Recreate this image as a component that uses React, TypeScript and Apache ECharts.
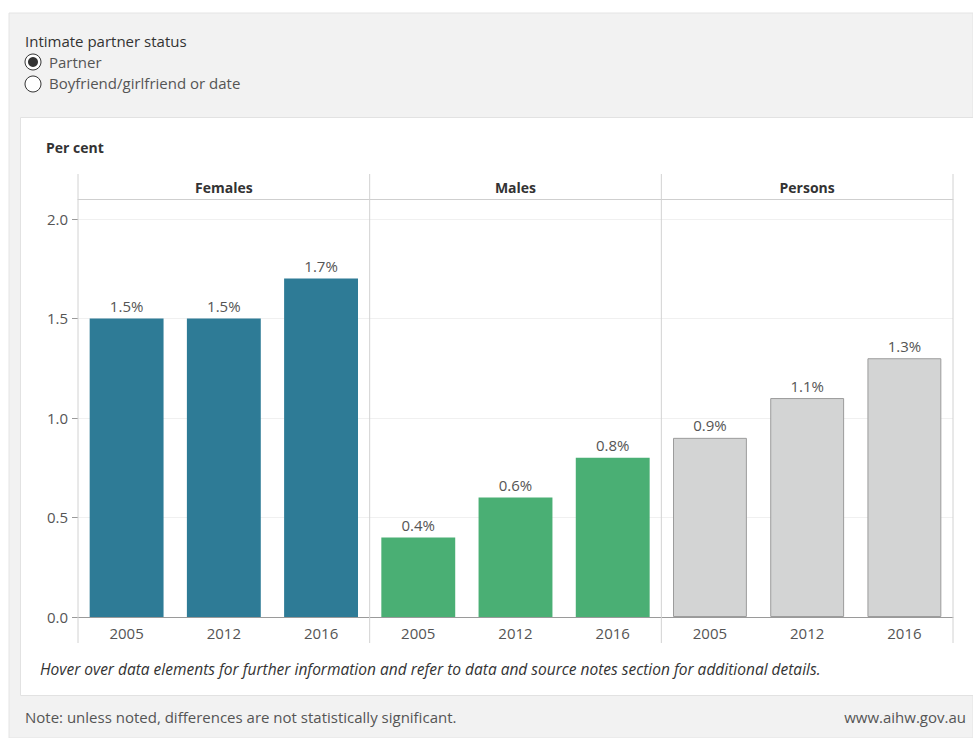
import React, { useEffect, useRef } from "react";
import * as echarts from "echarts";

const panels = ["Females", "Males", "Persons"];
const years = ["2005", "2012", "2016"];
const femalesValues = [1.5, 1.5, 1.7];
const malesValues = [0.4, 0.6, 0.8];
const personsValues = [0.9, 1.1, 1.3];
const yTicks = [0, 0.5, 1.0, 1.5, 2.0];
const panelValues = [femalesValues, malesValues, personsValues];
const panelColors = ["#2e7b96", "#4aaf74", "#d3d4d4"];

const FONT = "'Open Sans', Lato, sans-serif";
const W = 973;
const H = 738;
const plotLeft = 78;
const plotRight = 953;
const plotTop = 199;
const plotBottom = 617;

export default function App() {
  const ref = useRef<HTMLDivElement>(null);
  useEffect(() => {
    if (!ref.current) return;
    const chart = echarts.init(ref.current, null, { renderer: "svg" });
    const pw = (plotRight - plotLeft) / panels.length;
    const grids = panels.map((_, i) => ({
      left: plotLeft + pw * i,
      width: pw,
      top: plotTop,
      height: plotBottom - plotTop,
      containLabel: false,
    }));
    const xAxes: any[] = [];
    const yAxes: any[] = [];
    const series: any[] = [];
    panels.forEach((p, i) => {
      xAxes.push({
        type: "category",
        gridIndex: i,
        data: years,
        position: "bottom",
        axisLine: { show: true, lineStyle: { color: "#9a9a9a", width: 1 } },
        axisTick: { show: false },
        axisLabel: { color: "#555", fontSize: 15, fontFamily: FONT, margin: 8 },
      });
      xAxes.push({
        type: "category",
        gridIndex: i,
        data: [p],
        position: "top",
        axisLine: { show: true, lineStyle: { color: "#cfcfcf", width: 1 } },
        axisTick: { show: false },
        axisLabel: { color: "#333", fontSize: 14, fontWeight: "bold", fontFamily: FONT, margin: 5 },
      });
      yAxes.push({
        type: "value",
        gridIndex: i,
        min: 0,
        max: 2.1,
        interval: 0.5,
        axisLine: { show: false },
        axisTick: {
          show: i === 0,
          length: 6,
          customValues: yTicks,
          lineStyle: { color: "#9a9a9a" },
        },
        axisLabel: {
          show: i === 0,
          customValues: yTicks,
          color: "#555",
          fontSize: 15,
          fontFamily: FONT,
          margin: 10,
          formatter: (v: number) => v.toFixed(1),
        },
        splitLine: { show: true, lineStyle: { color: "#f0f0f0", width: 1 } },
      });
      series.push({
        type: "bar",
        xAxisIndex: i * 2,
        yAxisIndex: i,
        data: panelValues[i],
        barWidth: "76%",
        itemStyle: {
          color: panelColors[i],
          borderColor: i === 2 ? "#9c9c9c" : panelColors[i],
          borderWidth: i === 2 ? 1 : 0,
        },
        label: {
          show: true,
          position: "top",
          distance: 5,
          color: "#555",
          fontSize: 15,
          fontFamily: FONT,
          formatter: (d: any) => d.value.toFixed(1) + "%",
        },
      });
    });

    const dividers = [0, 1, 2, 3].map((k) => ({
      type: "line",
      shape: { x1: plotLeft + pw * k, y1: 174, x2: plotLeft + pw * k, y2: 643 },
      style: { stroke: "#d2d2d2", lineWidth: 1 },
      z: 5,
    }));

    chart.setOption({
      animation: false,
      grid: grids,
      xAxis: xAxes,
      yAxis: yAxes,
      series,
      graphic: [
        { type: "rect", z: -10, shape: { x: 9, y: 13, width: W - 9, height: H - 13 }, style: { fill: "#f2f2f2", stroke: "#e4e4e4", lineWidth: 1 } },
        { type: "rect", z: -9, shape: { x: 20.5, y: 117.5, width: W - 20, height: 578 }, style: { fill: "#ffffff", stroke: "#e2e2e2", lineWidth: 1 } },
        { type: "text", x: 25, y: 41, style: { text: "Intimate partner status", fill: "#333", font: `15px ${FONT}`, textVerticalAlign: "middle" } },
        { type: "circle", shape: { cx: 33, cy: 62, r: 8 }, style: { fill: "#fff", stroke: "#333", lineWidth: 1 } },
        { type: "circle", shape: { cx: 33, cy: 62, r: 5 }, style: { fill: "#333" } },
        { type: "text", x: 49, y: 62, style: { text: "Partner", fill: "#555", font: `15px ${FONT}`, textVerticalAlign: "middle" } },
        { type: "circle", shape: { cx: 33, cy: 84, r: 8 }, style: { fill: "#fff", stroke: "#333", lineWidth: 1 } },
        { type: "text", x: 49, y: 83, style: { text: "Boyfriend/girlfriend or date", fill: "#555", font: `15px ${FONT}`, textVerticalAlign: "middle" } },
        { type: "text", x: 46, y: 147, style: { text: "Per cent", fill: "#333", font: `bold 14px ${FONT}`, textVerticalAlign: "middle" } },
        ...dividers,
        { type: "text", x: 40, y: 669, style: { text: "Hover over data elements for further information and refer to data and source notes section for additional details.", fill: "#333", font: `italic 15.5px ${FONT}`, textVerticalAlign: "middle" } },
        { type: "text", x: 25, y: 717, style: { text: "Note: unless noted, differences are not statistically significant.", fill: "#555", font: `15px ${FONT}`, textVerticalAlign: "middle" } },
        { type: "text", x: 966, y: 717, style: { text: "www.aihw.gov.au", fill: "#555", font: `15px ${FONT}`, textAlign: "right", textVerticalAlign: "middle" } },
      ],
    });
    return () => chart.dispose();
  }, []);
  return (
    <div
      ref={ref}
      style={{ position: "fixed", left: 0, top: 0, width: W, height: H, background: "#fff" }}
    />
  );
}
